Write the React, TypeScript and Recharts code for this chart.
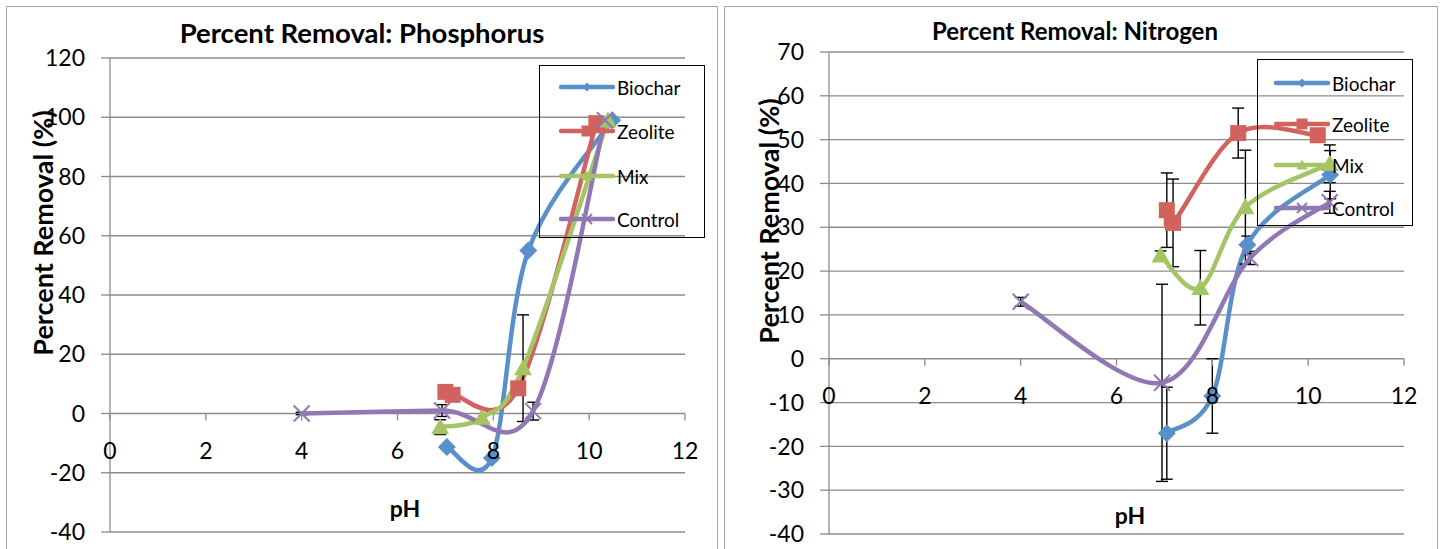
import React from 'react';
import { LineChart, Line, XAxis, YAxis, CartesianGrid, ErrorBar, Legend } from 'recharts';

// ---------- shared ----------
const SERIES = ['Biochar', 'Zeolite', 'Mix', 'Control'];
const COLORS = ['#5A90CA', '#D1625D', '#A5C565', '#8F78B4'];
const SHAPES = ['diamond', 'square', 'triangle', 'cross'];
const xTicks = [0, 2, 4, 6, 8, 10, 12];

// ---------- Phosphorus ----------
const pTitle = 'Percent Removal: Phosphorus';
const pTicks = [-40, -20, 0, 20, 40, 60, 80, 100, 120];
const pBiocharPH = [7.03, 7.97, 8.73, 10.48];
const pBiocharVal = [-11.3, -15, 55, 99];
const pBiocharErr = [null, null, null, null];
const pZeolitePH = [7.0, 7.15, 8.52, 10.15];
const pZeoliteVal = [7.3, 6.3, 8.5, 98];
const pZeoliteErr = [null, null, null, null];
const pMixPH = [6.89, 7.76, 8.62, 10.39];
const pMixVal = [-4.6, -1.4, 15.3, 99];
const pMixErr = [2.5, null, 18, null];
const pControlPH = [4.0, 6.93, 8.83, 10.33];
const pControlVal = [0, 1, 0.8, 99];
const pControlErr = [0.4, 2, 3, null];

// ---------- Nitrogen ----------
const nTitle = 'Percent Removal: Nitrogen';
const nTicks = [-40, -30, -20, -10, 0, 10, 20, 30, 40, 50, 60, 70];
const nBiocharPH = [7.05, 8.0, 8.73, 10.46];
const nBiocharVal = [-17, -8.5, 26, 42];
const nBiocharErr = [10.5, 8.5, 2, 5.5];
const nZeolitePH = [7.05, 7.18, 8.54, 10.2];
const nZeoliteVal = [33.9, 31, 51.5, 51];
const nZeoliteErr = [8.5, 10, 5.7, null];
const nMixPH = [6.92, 7.75, 8.69, 10.45];
const nMixVal = [23.6, 16.2, 34.6, 44.5];
const nMixErr = [1, 8.5, 13, 4.3];
const nControlPH = [4.0, 6.95, 8.79, 10.45];
const nControlVal = [13, -5.5, 23, 35.7];
const nControlErr = [1, 22.5, 1.5, 2.5];

const FONT = 'Lato, "Open Sans", sans-serif';
const GRID = '#8C8C8C';
const TICK_FS = 23;

function rows(ph: number[], val: number[], err: (number | null)[]) {
  return ph.map((x, i) => ({ x, y: val[i], e: err[i] == null ? undefined : err[i] }));
}

// Excel-like smoothed line (uniform Catmull-Rom as cubic Beziers)
function excelSmooth(context: any) {
  let pts: number[][] = [];
  return {
    areaStart() {},
    areaEnd() {},
    lineStart() {
      pts = [];
    },
    point(x: number, y: number) {
      pts.push([+x, +y]);
    },
    lineEnd() {
      if (!pts.length) return;
      context.moveTo(pts[0][0], pts[0][1]);
      for (let i = 0; i < pts.length - 1; i++) {
        const p0 = pts[i - 1] || pts[i];
        const p1 = pts[i];
        const p2 = pts[i + 1];
        const p3 = pts[i + 2] || p2;
        context.bezierCurveTo(
          p1[0] + (p2[0] - p0[0]) / 6,
          p1[1] + (p2[1] - p0[1]) / 6,
          p2[0] - (p3[0] - p1[0]) / 6,
          p2[1] - (p3[1] - p1[1]) / 6,
          p2[0],
          p2[1]
        );
      }
    },
  };
}

function Marker({ shape, cx, cy, color, s }: any) {
  if (cx == null || cy == null) return null;
  if (shape === 'diamond')
    return <polygon points={`${cx},${cy - s} ${cx + s},${cy} ${cx},${cy + s} ${cx - s},${cy}`} fill={color} />;
  if (shape === 'square') return <rect x={cx - s} y={cy - s} width={2 * s} height={2 * s} fill={color} />;
  if (shape === 'triangle')
    return <polygon points={`${cx},${cy - s} ${cx + s},${cy + s * 0.8} ${cx - s},${cy + s * 0.8}`} fill={color} />;
  return (
    <g stroke={color} strokeWidth={2}>
      <line x1={cx - s} y1={cy - s} x2={cx + s} y2={cy + s} />
      <line x1={cx - s} y1={cy + s} x2={cx + s} y2={cy - s} />
    </g>
  );
}

const DOT_SIZE: Record<string, number> = { diamond: 9, square: 8, triangle: 9, cross: 8 };
const LEG_SIZE: Record<string, number> = { diamond: 4.5, square: 5.5, triangle: 5.5, cross: 5 };

function LegendContent({ payload, rowY, sampleLeft }: any) {
  return (
    <div
      style={{
        position: 'relative',
        width: '100%',
        height: '100%',
        border: '1.5px solid #000',
        boxSizing: 'border-box',
      }}
    >
      {(payload || []).map((p: any) => {
        const idx = SERIES.indexOf(p.value);
        const shape = SHAPES[idx];
        return (
          <div
            key={p.value}
            style={{
              position: 'absolute',
              left: sampleLeft,
              top: rowY[idx] - 11,
              height: 22,
              display: 'flex',
              alignItems: 'center',
              whiteSpace: 'nowrap',
            }}
          >
            <svg width={56} height={22} style={{ display: 'block' }}>
              <line x1={2} x2={54} y1={11} y2={11} stroke={p.color} strokeWidth={4.5} strokeLinecap="round" />
              <Marker shape={shape} cx={28} cy={11} color={p.color} s={LEG_SIZE[shape]} />
            </svg>
            <span style={{ fontFamily: FONT, fontSize: 19, color: '#000', marginLeft: 2 }}>{p.value}</span>
          </div>
        );
      })}
    </div>
  );
}

function XTick({ x, payload, zeroY }: any) {
  return (
    <g>
      <line x1={x} x2={x} y1={zeroY} y2={zeroY + 7} stroke={GRID} strokeWidth={1.3} />
      <text x={x} y={zeroY + 36} textAnchor="middle" dominantBaseline="central" fontFamily={FONT} fontSize={TICK_FS} fill="#000">
        {payload.value}
      </text>
    </g>
  );
}

type PanelProps = {
  title: string;
  titleSize: number;
  ticks: number[];
  series: any[];
  plotLeft: number;
  plotRight: number;
  plotTop: number;
  plotBottom: number;
  titleX: number;
  titleY: number;
  yTitleX: number;
  yTitleY: number;
  pHX: number;
  pHY: number;
  legend: { left: number; top: number; width: number; height: number; rowY: number[]; sampleLeft: number };
};

const W = 720;
const H = 549;

function Panel(p: PanelProps) {
  const yMin = p.ticks[0];
  const yMax = p.ticks[p.ticks.length - 1];
  const zeroY = p.plotTop + ((yMax - 0) / (yMax - yMin)) * (p.plotBottom - p.plotTop);
  return (
    <LineChart
      width={W}
      height={H}
      margin={{ top: p.plotTop, right: W - p.plotRight, bottom: H - p.plotBottom - 1, left: 0 }}
    >
      <CartesianGrid vertical={false} stroke={GRID} strokeWidth={1.3} horizontalValues={p.ticks} />
      <XAxis
        type="number"
        dataKey="x"
        domain={[0, 12]}
        ticks={xTicks}
        height={1}
        axisLine={false}
        tickLine={false}
        interval={0}
        tick={(props: any) => <XTick x={props.x} payload={props.payload} zeroY={zeroY} />}
      />
      <YAxis
        type="number"
        domain={[yMin, yMax]}
        ticks={p.ticks}
        width={p.plotLeft}
        interval={0}
        axisLine={{ stroke: GRID, strokeWidth: 1.3 }}
        tickLine={{ stroke: GRID, strokeWidth: 1.3 }}
        tickSize={9}
        tickMargin={16}
        tick={{ fontFamily: FONT, fontSize: TICK_FS, fill: '#000' }}
      />
      {p.series.map((s, i) => (
        <Line
          key={SERIES[i]}
          name={SERIES[i]}
          data={s}
          dataKey="y"
          type={excelSmooth as any}
          stroke={COLORS[i]}
          strokeWidth={4.5}
          isAnimationActive={false}
          dot={(d: any) => (
            <Marker key={`${SERIES[i]}-${d.index}`} shape={SHAPES[i]} cx={d.cx} cy={d.cy} color={COLORS[i]} s={DOT_SIZE[SHAPES[i]]} />
          )}
          activeDot={false}
        >
          <ErrorBar dataKey="e" direction="y" width={6} stroke="#000" strokeWidth={1.4} isAnimationActive={false} />
        </Line>
      ))}
      <Legend
        layout="vertical"
        align="center"
        verticalAlign="middle"
        wrapperStyle={{ left: p.legend.left, top: p.legend.top, width: p.legend.width, height: p.legend.height }}
        content={(props: any) => (
          <LegendContent payload={props.payload} rowY={p.legend.rowY} sampleLeft={p.legend.sampleLeft} />
        )}
      />
      <text x={p.titleX} y={p.titleY} textAnchor="middle" dominantBaseline="central" fontFamily={FONT} fontWeight="bold" fontSize={p.titleSize} fill="#000">
        {p.title}
      </text>
      <text
        x={p.yTitleX}
        y={p.yTitleY}
        transform={`rotate(-90, ${p.yTitleX}, ${p.yTitleY})`}
        textAnchor="middle"
        dominantBaseline="central"
        fontFamily={FONT}
        fontWeight="bold"
        fontSize={27}
        fill="#000"
      >
        Percent Removal (%)
      </text>
      <text x={p.pHX} y={p.pHY} textAnchor="middle" dominantBaseline="central" fontFamily={FONT} fontWeight="bold" fontSize={23} fill="#000">
        pH
      </text>
    </LineChart>
  );
}

export default function App() {
  const pSeries = [
    rows(pBiocharPH, pBiocharVal, pBiocharErr),
    rows(pZeolitePH, pZeoliteVal, pZeoliteErr),
    rows(pMixPH, pMixVal, pMixErr),
    rows(pControlPH, pControlVal, pControlErr),
  ];
  const nSeries = [
    rows(nBiocharPH, nBiocharVal, nBiocharErr),
    rows(nZeolitePH, nZeoliteVal, nZeoliteErr),
    rows(nMixPH, nMixVal, nMixErr),
    rows(nControlPH, nControlVal, nControlErr),
  ];
  return (
    <div style={{ position: 'absolute', left: 0, top: 0, width: 1443, height: 549, overflow: 'hidden', background: '#fff' }}>
      <div style={{ position: 'absolute', left: 6, top: 6, width: 710, height: 600, border: '1.5px solid #A6A6A6' }} />
      <div style={{ position: 'absolute', left: 724, top: 6, width: 712, height: 600, border: '1.5px solid #A6A6A6' }} />
      <div style={{ position: 'absolute', left: 0, top: 0 }}>
        <Panel
          title={pTitle}
          titleSize={27.5}
          ticks={pTicks}
          series={pSeries}
          plotLeft={110}
          plotRight={685}
          plotTop={58}
          plotBottom={532}
          titleX={362}
          titleY={32}
          yTitleX={42}
          yTitleY={233}
          pHX={405}
          pHY={508}
          legend={{ left: 539, top: 65, width: 166, height: 173, rowY: [21, 65, 110, 153], sampleLeft: 19 }}
        />
      </div>
      <div style={{ position: 'absolute', left: 720, top: 0 }}>
        <Panel
          title={nTitle}
          titleSize={24}
          ticks={nTicks}
          series={nSeries}
          plotLeft={109}
          plotRight={684}
          plotTop={52}
          plotBottom={534}
          titleX={355}
          titleY={30}
          yTitleX={48}
          yTitleY={221}
          pHX={410}
          pHY={515}
          legend={{ left: 537, top: 59, width: 156, height: 167, rowY: [23, 64, 105, 148], sampleLeft: 16 }}
        />
      </div>
    </div>
  );
}
